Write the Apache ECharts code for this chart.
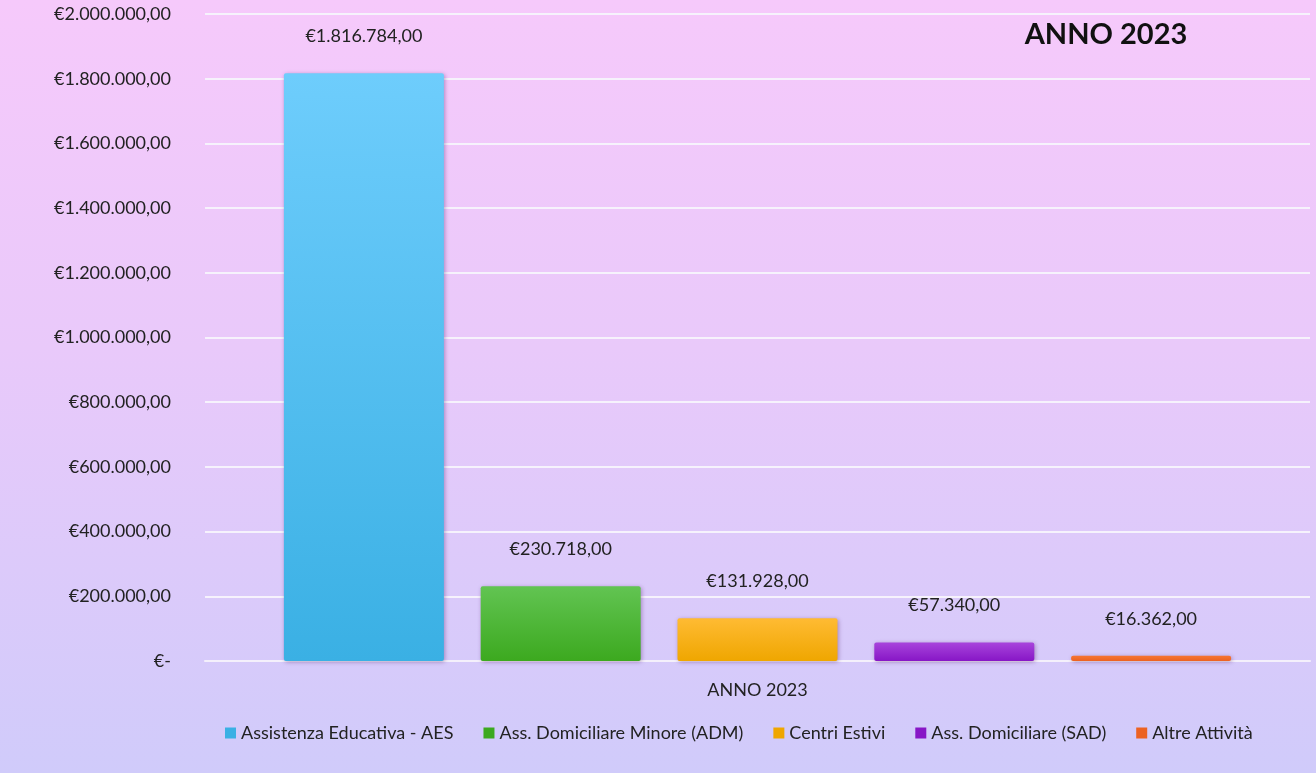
<!DOCTYPE html>
<html>
<head>
<meta charset="utf-8">
<script src="https://cdn.jsdelivr.net/npm/echarts@6/dist/echarts.min.js"></script>
<style>
html,body{margin:0;padding:0;}
#c{width:1316px;height:773px;background:linear-gradient(to bottom,#f6c9fb 0%,#e9c9fa 45%,#d0cbfa 100%);}
</style>
</head>
<body>
<div id="c"></div>
<script>
const categories = ["ANNO 2023"];
const seriesNames = ["Assistenza Educativa - AES","Ass. Domiciliare Minore (ADM)","Centri Estivi","Ass. Domiciliare (SAD)","Altre Attività"];
const seriesValues = [1816784, 230718, 131928, 57340, 16362];
const yTicks = [0, 200000, 400000, 600000, 800000, 1000000, 1200000, 1400000, 1600000, 1800000, 2000000];
const titleText = "ANNO 2023";

const gradients = [
  ["#6ecdfc","#3ab0e4"],
  ["#62c452","#3ca91f"],
  ["#ffbb33","#efa600"],
  ["#a845dc","#8716c6"],
  ["#f67632","#ec6222"]
];

function fmt(v){
  if(v===0) return "€-";
  const s = Math.round(v).toString().replace(/\B(?=(\d{3})+(?!\d))/g, ".");
  return "€" + s + ",00";
}

const font = "Lato, 'Open Sans', sans-serif";
const chart = echarts.init(document.getElementById('c'), null, {renderer:'canvas'});
const series = seriesNames.map((n,i)=>({
  name:n,
  type:'bar',
  data:[seriesValues[i]],
  barWidth:160,
  barGap:'23%',
  itemStyle:{
    color:new echarts.graphic.LinearGradient(0,0,0,1,[{offset:0,color:gradients[i][0]},{offset:1,color:gradients[i][1]}]),
    borderRadius:2,
    shadowColor:'rgba(60,0,80,0.35)',
    shadowBlur:4,
    shadowOffsetX:1,
    shadowOffsetY:1
  },
  label:{
    show:true,
    position:'top',
    distance:28,
    formatter:p=>fmt(p.value),
    color:'#222',
    fontFamily:font,
    fontSize:18
  }
}));

chart.setOption({
  backgroundColor:'transparent',
  title:{
    text:titleText,
    left:1101,
    top:15,
    textAlign:'center',
    textStyle:{fontFamily:font,fontWeight:'bold',fontSize:29,color:'#111'}
  },
  legend:{
    bottom:26,
    left:220,
    itemWidth:11,
    itemHeight:11,
    itemGap:30,
    icon:'rect',
    textStyle:{fontFamily:font,fontSize:18,color:'#222'},
    data:seriesNames.map((n,i)=>({name:n,itemStyle:{color:gradients[i][1]}}))
  },
  grid:{left:205,right:6,top:14,bottom:112,containLabel:false},
  xAxis:{
    type:'category',
    data:categories,
    axisLine:{show:true,lineStyle:{color:'#f4f0fb',width:2}},
    axisTick:{show:false},
    axisLabel:{fontFamily:font,fontSize:18,color:'#222',margin:20}
  },
  yAxis:{
    type:'value',
    min:0,
    max:2000000,
    interval:200000,
    axisLine:{show:false},
    axisTick:{show:false},
    splitLine:{lineStyle:{color:'#f6f2fc',width:2}},
    axisLabel:{fontFamily:font,fontSize:18,color:'#222',margin:34,formatter:v=>fmt(v)}
  },
  series:series
});
</script>
</body>
</html>
